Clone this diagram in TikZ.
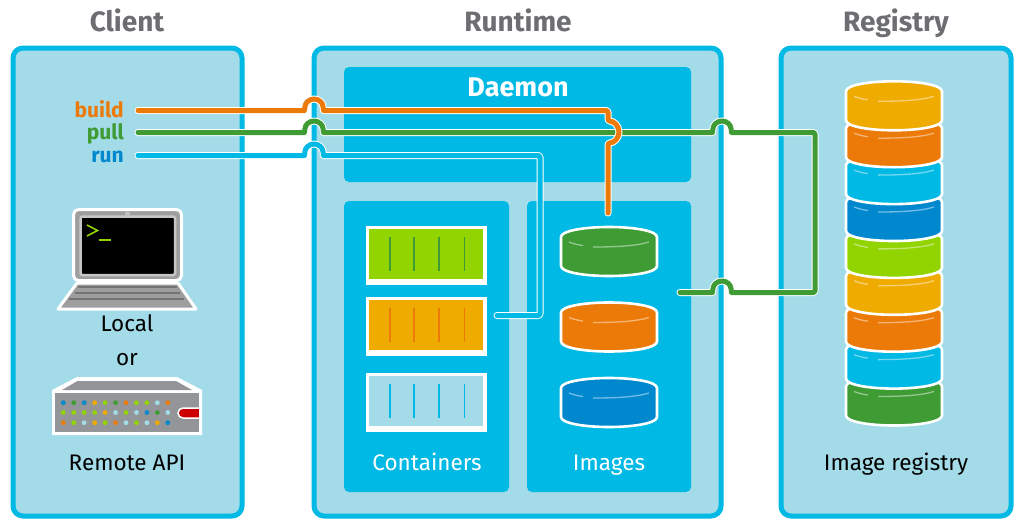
\documentclass[tikz,border=0pt]{standalone}
\usepackage{fontspec}
\setmainfont{Fira Sans}
\definecolor{panelfill}{HTML}{A3DBE8}
\definecolor{cyanblue}{HTML}{00B9E4}
\definecolor{deepblue}{HTML}{0088CE}
\definecolor{rhorange}{HTML}{EC7A08}
\definecolor{rhgreen}{HTML}{3F9C35}
\definecolor{rhlime}{HTML}{92D400}
\definecolor{rhamber}{HTML}{F0AB00}
\definecolor{titlegray}{HTML}{6D6E71}
\definecolor{servergray}{HTML}{939598}
\definecolor{laptopgray}{HTML}{9E9E9E}
\definecolor{rhred}{HTML}{CC0000}
\tikzset{
  panel/.style={draw=cyanblue,line width=5pt,fill=panelfill,rounded corners=10pt},
  inner panel/.style={fill=cyanblue,rounded corners=5pt},
  title text/.style={font=\fontsize{28}{32}\selectfont\bfseries,text=titlegray,anchor=base,inner sep=0pt},
  cmd text/.style={font=\fontsize{21}{25}\selectfont\bfseries,anchor=base east,inner sep=0pt},
  body text/.style={font=\fontsize{22.5}{26}\selectfont,anchor=base,inner sep=0pt},
  conn/.style={draw=white,double=#1,double distance=5pt,line width=1pt,line cap=round,line join=round,rounded corners=1.5pt},
  highlight/.style={draw=white,draw opacity=.45,line width=1.3pt},
  pics/cyl/.style={code={
    \path[draw=white,line width=2.6pt,fill=#1,line join=round]
      (0,10) .. controls (0,4) and (22,0) .. (48,0) .. controls (74,0) and (96,4) .. (96,10)
      -- (96,39) .. controls (96,45) and (74,49) .. (48,49) .. controls (22,49) and (0,45) .. (0,39) -- cycle;
    \draw[highlight] (8,15) .. controls (13,17) and (18,18) .. (22,18.5);
    \draw[highlight] (32,20) .. controls (55,20) and (75,19) .. (88,15);
  }},
  pics/box/.style={code={
    \path[fill=white] (0,0) rectangle (121,59);
    \path[fill=#1] (3,3) rectangle (117,53);
  }},
}
\begin{document}
\begin{tikzpicture}[x=1pt,y=-1pt]
\useasboundingbox (0,0) rectangle (1035,530);
% panels
\path[panel] (13,48) rectangle (242,516);
\path[panel] (314,48) rectangle (721,516);
\path[panel] (781,48) rectangle (1011,516);
\path[inner panel] (344,67) rectangle (691,182);
\path[inner panel] (344,201) rectangle (509,492);
\path[inner panel] (527,201) rectangle (691,492);
% titles
\node[title text] (tclient) at (127,31) {Client};
\node[title text] (truntime) at (518,31) {Runtime};
\node[title text] (tregistry) at (896,31) {Registry};
\node[font=\fontsize{27}{31}\selectfont\bfseries,text=white,anchor=base,inner sep=0pt] (daemon) at (518,96) {Daemon};
% command labels
\node[cmd text,text=rhorange] (build) at (124,117) {build};
\node[cmd text,text=rhgreen] (pull) at (124,139) {pull};
\node[cmd text,text=deepblue] (run) at (124,162) {run};
% body labels
\node[body text] (local) at (127,331) {Local};
\node[body text] (orl) at (127,365) {or};
\node[body text] (remote) at (127,470) {Remote API};
\node[body text,text=white] (containers) at (427,470) {Containers};
\node[body text,text=white] (images) at (609,470) {Images};
\node[body text] (imgreg) at (896,470) {Image registry};
% laptop
\path[fill=laptopgray,draw=white,line width=3pt,line join=round] (77,283) -- (178,283) -- (196,309) -- (58,309) -- cycle;
\draw[line width=1.3pt,draw=gray!90!black] (78,287) -- (177,287);
\draw[line width=1.3pt,draw=gray!90!black] (75,293) -- (180,293);
\draw[line width=1.3pt,draw=gray!90!black] (69,299) -- (184,299);
\path[fill=laptopgray,draw=white,line width=3pt,rounded corners=5pt] (73.5,209.5) rectangle (181.5,280.5);
\path[fill=black,draw=gray!45,line width=2.5pt,rounded corners=2pt] (80.5,216.5) rectangle (175,275);
\path[fill=gray!50] (127.5,214) circle (2.7);
\draw[rhlime,line width=1.6pt] (87,225) -- (97.5,230.5) -- (87,236);
\draw[rhlime,line width=1.8pt] (98.5,240) -- (111,240);
% server
\path[fill=white] (52,390) -- (77,377) -- (177,377) -- (202,390) -- (202,435) -- (52,435) -- cycle;
\path[fill=servergray] (77.5,381) -- (176,381) -- (192,390) -- (62,390) -- cycle;
\path[fill=servergray] (55,393) rectangle (199,432);
\foreach \c [count=\i from 0] in {deepblue,rhgreen,deepblue,rhamber,rhlime,rhgreen,rhorange,rhlime,rhlime,panelfill,rhorange}
  \path[fill=\c] ({63.3+10.45*\i},402.7) circle (2.4);
\foreach \c [count=\i from 0] in {rhlime,rhlime,rhlime,rhlime,rhamber,panelfill,rhlime,panelfill,deepblue,rhgreen,panelfill}
  \path[fill=\c] ({63.3+10.45*\i},412.5) circle (2.4);
\foreach \c [count=\i from 0] in {rhorange,rhlime,panelfill,rhamber,rhlime,rhorange,panelfill,rhlime,panelfill,rhamber,deepblue}
  \path[fill=\c] ({63.3+10.45*\i},422.7) circle (2.4);
\path[fill=rhred,draw=white,line width=1.5pt] (199,408) -- (183,408) arc[start angle=-90,end angle=-270,radius=5] -- (199,418);
\path[fill=white] (199,405) rectangle (202,421);
% containers
\pic at (366,226) {box=rhlime};
\pic at (366,297) {box=rhamber};
\pic at (366,373) {box=panelfill};
\foreach \bx in {390,414,439,464.5}{
  \draw[rhgreen,line width=1.8pt] (\bx,237) -- (\bx,271);
  \draw[rhorange,line width=1.8pt] (\bx,308) -- (\bx,342);
  \draw[cyanblue,line width=1.8pt] (\bx,384) -- (\bx,418);
}
% image cylinders
\pic at (561,227) {cyl=rhgreen};
\pic at (561,302.5) {cyl=rhorange};
\pic at (561,378) {cyl=deepblue};
% registry stack
\pic at (846,376.5) {cyl=rhgreen};
\pic at (846,339.6) {cyl=cyanblue};
\pic at (846,302.7) {cyl=rhorange};
\pic at (846,265.8) {cyl=rhamber};
\pic at (846,228.9) {cyl=rhlime};
\pic at (846,192) {cyl=deepblue};
\pic at (846,155.1) {cyl=cyanblue};
\pic at (846,118.2) {cyl=rhorange};
\pic at (846,81.3) {cyl=rhamber};
% connector ends
\coordinate (runstart) at (138,155.5);
\coordinate (pullstart) at (138,132.5);
\coordinate (buildstart) at (138,110.5);
\coordinate (runend) at (497,315.5);
\coordinate (pullend) at (680,292.5);
\coordinate (buildend) at (608,213);
% connectors
\draw[conn=cyanblue] (runstart) -- (303,155.5) to[out=0,in=90] (305,153) arc[start angle=180,end angle=360,radius=9] to[out=90,in=180] (325,155.5) -- (540,155.5) -- (540,315.5) -- (runend);
\draw[conn=rhgreen] (pullstart) -- (303,132.5) to[out=0,in=90] (305,130) arc[start angle=180,end angle=360,radius=9] to[out=90,in=180] (325,132.5)
  -- (711,132.5) to[out=0,in=90] (713,130) arc[start angle=180,end angle=360,radius=9] to[out=90,in=180] (733,132.5)
  -- (815,132.5) -- (815,292.5) -- (733,292.5) to[out=180,in=90] (731,290) arc[start angle=0,end angle=-180,radius=9] to[out=90,in=0] (711,292.5) -- (pullend);
\draw[conn=rhorange] (buildstart) -- (303,110.5) to[out=0,in=90] (305,108) arc[start angle=180,end angle=360,radius=9] to[out=90,in=180] (325,110.5)
  -- (608,110.5) -- (608,121) arc[start angle=-90,end angle=90,radius=11] -- (buildend);
\end{tikzpicture}
\end{document}
